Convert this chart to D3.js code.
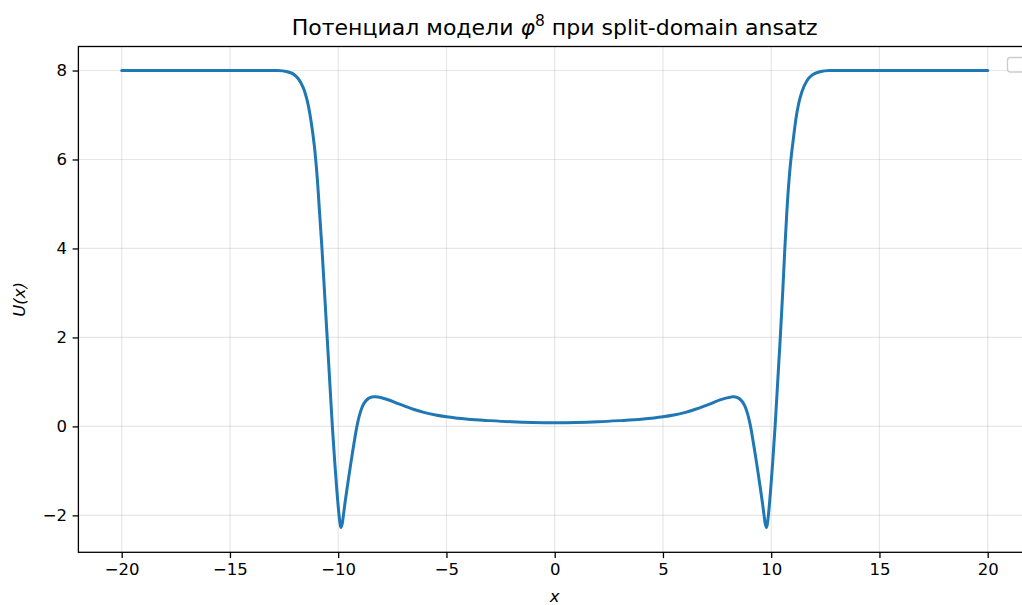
<!DOCTYPE html>
<html>
<head>
<meta charset="utf-8">
<script src="https://cdn.jsdelivr.net/npm/d3@7"></script>
<style>
  html, body { margin: 0; padding: 0; background: #fff; overflow: hidden; }
  svg { display: block; }
  text { font-family: "DejaVu Sans", sans-serif; fill: #000; }
</style>
</head>
<body>
<svg id="chart" width="1022" height="605"></svg>
<script>
// Potential U(x) sampled along x
const xs = [
  -20, -16, -14, -12.8, -12.4, -12.1, -11.85, -11.62, -11.42, -11.25, -11.1, -10.97,
  -10.86, -10.75, -10.63, -10.51, -10.39, -10.27, -10.16, -10.06, -9.97, -9.91, -9.87,
  -9.82, -9.76, -9.68, -9.58, -9.47, -9.35, -9.23, -9.12, -9.0, -8.88, -8.75, -8.6,
  -8.45, -8.3, -8.0, -7.7, -7.3, -6.9, -6.5, -6.0, -5.5, -5.0, -4.5, -4.0, -3.0,
  -2.0, -1.0, 0,
  1.0, 2.0, 3.0, 4.0, 4.5, 5.0, 5.5, 6.0, 6.5, 6.9, 7.3, 7.6, 7.9, 8.1, 8.21, 8.36,
  8.51, 8.66, 8.79, 8.91, 9.03, 9.14, 9.26, 9.38, 9.49, 9.59, 9.67, 9.73, 9.78, 9.82,
  9.88, 9.97, 10.07, 10.18, 10.3, 10.42, 10.53, 10.63, 10.72, 10.81, 10.91, 11.02,
  11.17, 11.33, 11.52, 11.74, 12.0, 12.3, 12.7, 14, 16, 20
];
const us = [
  8, 8, 8, 8.0, 7.98, 7.93, 7.82, 7.62, 7.3, 6.85, 6.3, 5.6,
  4.8, 4.0, 3.0, 2.0, 1.0, 0.0, -0.8, -1.45, -1.95, -2.2, -2.27,
  -2.2, -2.0, -1.7, -1.36, -1.0, -0.62, -0.26, 0.04, 0.28, 0.45, 0.56, 0.63,
  0.66, 0.665, 0.645, 0.6, 0.525, 0.45, 0.38, 0.31, 0.255, 0.215, 0.185, 0.16, 0.13,
  0.105, 0.09, 0.085,
  0.09, 0.105, 0.13, 0.16, 0.185, 0.215, 0.255, 0.31, 0.385, 0.455, 0.53, 0.59, 0.635, 0.655, 0.665, 0.66,
  0.63, 0.56, 0.45, 0.28, 0.04, -0.26, -0.62, -1.0, -1.36, -1.7, -2.0, -2.2, -2.27, -2.2,
  -1.95, -1.45, -0.8, 0.0, 1.0, 2.0, 3.0, 4.0, 4.8, 5.45, 6.0, 6.45,
  7.0, 7.38, 7.65, 7.83, 7.93, 7.98, 8.0, 8, 8, 8
];
const xTicks = [-20, -15, -10, -5, 0, 5, 10, 15, 20];
const yTicks = [-2, 0, 2, 4, 6, 8];
const titleMain = "Потенциал модели ";
const titleSym = "φ";
const titleSup = "8";
const titleTail = " при split-domain ansatz";
const xLabel = "x";
const yLabel = "U(x)";

const points = xs.map((x, i) => ({ x, u: us[i] }));

const svg = d3.select("#chart");
const plotLeft = 78.4, plotRight = 1031, plotTop = 46.5, plotBottom = 552.3;
const tickFont = 16.5;

const x = d3.scaleLinear().domain([-22, 22]).range([plotLeft, plotRight]);
const y = d3.scaleLinear().domain([-2.83, 8.54]).range([plotBottom, plotTop]);

// grid
const grid = svg.append("g");
grid.selectAll(".gx").data(xTicks).join("line")
  .attr("x1", d => x(d)).attr("x2", d => x(d))
  .attr("y1", plotTop).attr("y2", plotBottom)
  .attr("stroke", "#b0b0b0").attr("stroke-opacity", 0.3).attr("stroke-width", 1.2);
grid.selectAll(".gy").data(yTicks).join("line")
  .attr("x1", plotLeft).attr("x2", plotRight)
  .attr("y1", d => y(d)).attr("y2", d => y(d))
  .attr("stroke", "#b0b0b0").attr("stroke-opacity", 0.3).attr("stroke-width", 1.2);

// curve
const line = d3.line().x(d => x(d.x)).y(d => y(d.u)).curve(d3.curveCatmullRom.alpha(0.5));
svg.append("path").datum(points)
  .attr("d", line)
  .attr("fill", "none")
  .attr("stroke", "#1f77b4")
  .attr("stroke-width", 3)
  .attr("stroke-linejoin", "round")
  .attr("stroke-linecap", "round");

// axes
const fmt = d => (d < 0 ? "\u2212" + Math.abs(d) : String(d));
const xAxis = svg.append("g").attr("transform", `translate(0,${plotBottom})`)
  .call(d3.axisBottom(x).tickValues(xTicks).tickFormat(fmt).tickSizeOuter(0).tickSize(5.8).tickPadding(5.6));
const yAxis = svg.append("g").attr("transform", `translate(${plotLeft},0)`)
  .call(d3.axisLeft(y).tickValues(yTicks).tickFormat(fmt).tickSizeOuter(0).tickSize(5.8).tickPadding(5.6));
[xAxis, yAxis].forEach(g => {
  g.select(".domain").remove();
  g.selectAll(".tick line").attr("stroke", "#000").attr("stroke-width", 1.3);
  g.selectAll(".tick text").attr("font-size", tickFont).attr("font-family", "DejaVu Sans").attr("fill", "#000");
});

// spines
svg.append("rect")
  .attr("x", plotLeft).attr("y", plotTop)
  .attr("width", plotRight - plotLeft).attr("height", plotBottom - plotTop)
  .attr("fill", "none").attr("stroke", "#000").attr("stroke-width", 1.3);

// empty legend frame
svg.append("rect")
  .attr("x", 1007.5).attr("y", 57.5).attr("width", 40).attr("height", 14.5).attr("rx", 3)
  .attr("fill", "#fff").attr("fill-opacity", 0.8)
  .attr("stroke", "#cccccc").attr("stroke-width", 1.3);

// title
const title = svg.append("text")
  .attr("x", (plotLeft + plotRight) / 2).attr("y", 35)
  .attr("text-anchor", "middle").attr("font-size", 22);
title.append("tspan").text(titleMain);
title.append("tspan").attr("font-style", "italic").text(titleSym);
title.append("tspan").attr("font-size", 15.5).attr("dy", -9).text(titleSup);
title.append("tspan").attr("dy", 9).text(titleTail);

// axis labels
svg.append("text")
  .attr("x", x(0)).attr("y", 602)
  .attr("text-anchor", "middle").attr("font-size", tickFont).attr("font-style", "italic")
  .text(xLabel);
svg.append("text")
  .attr("transform", `translate(24.5,${(plotTop + plotBottom) / 2}) rotate(-90)`)
  .attr("text-anchor", "middle").attr("font-size", tickFont).attr("font-style", "italic")
  .text(yLabel);
</script>
</body>
</html>
